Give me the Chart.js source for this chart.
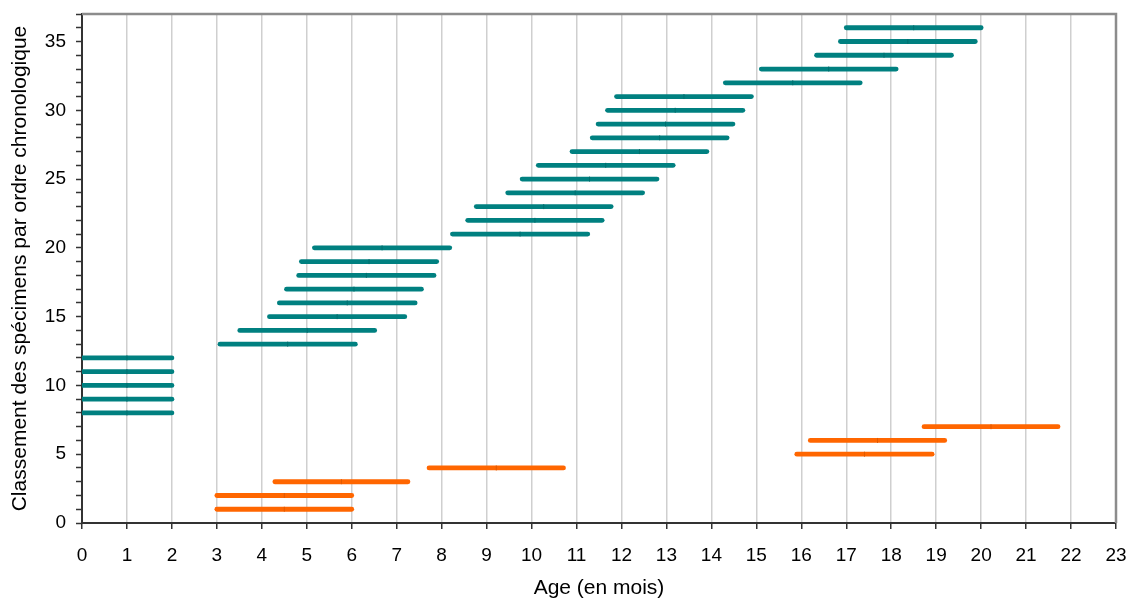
<!DOCTYPE html>
<html>
<head>
<meta charset="utf-8">
<script src="https://cdn.jsdelivr.net/npm/chart.js@4/dist/chart.umd.min.js"></script>
<style>
  body { margin: 0; background: #fff; }
  #wrap { width: 1133px; height: 605px; }
</style>
</head>
<body>
<div id="wrap"><canvas id="chart"></canvas></div>
<script>
// Specimens ranked chronologically: rank, age at start and end (months), group
const ranks = [1, 2, 3, 4, 5, 6, 7,
    8, 9, 10, 11, 12, 13, 14, 15, 16, 17, 18, 19, 20,
    21, 22, 23, 24, 25, 26, 27, 28, 29, 30, 31, 32, 33, 34, 35, 36];
const startAges = [3, 3, 4.29, 7.72, 15.9, 16.2, 18.73,
    0, 0, 0, 0, 0, 3.07, 3.51, 4.17, 4.39, 4.55, 4.82, 4.88, 5.17,
    8.24, 8.58, 8.77, 9.47, 9.79, 10.15, 10.9, 11.35, 11.48, 11.69, 11.89, 14.31, 15.11, 16.34, 16.87, 17];
const endAges = [6, 6, 7.25, 10.71, 18.91, 19.19, 21.71,
    2, 2, 2, 2, 2, 6.08, 6.51, 7.18, 7.41, 7.55, 7.83, 7.89, 8.18,
    11.25, 11.57, 11.77, 12.47, 12.79, 13.15, 13.9, 14.35, 14.48, 14.7, 14.89, 17.31, 18.11, 19.34, 19.87, 20];
const groups = ['B', 'B', 'B', 'B', 'B', 'B', 'B',
    'A', 'A', 'A', 'A', 'A', 'A', 'A', 'A', 'A', 'A', 'A', 'A', 'A',
    'A', 'A', 'A', 'A', 'A', 'A', 'A', 'A', 'A', 'A', 'A', 'A', 'A', 'A', 'A', 'A'];

const colors = { A: '#008080', B: '#FF6600' };
const midColors = { A: '#006e6e', B: '#e05a00' };
const font = "'Liberation Sans', Arial, sans-serif";

const datasets = ranks.map(function(r, i){
    const g = groups[i];
    return {
        data: [
            { x: startAges[i], y: r },
            { x: (startAges[i] + endAges[i]) / 2, y: r },
            { x: endAges[i], y: r }
        ],
        borderColor: colors[g],
        borderWidth: 4.8,
        borderCapStyle: 'round',
        pointRadius: [0, 2.5, 0],
        pointStyle: 'line',
        rotation: 90,
        pointBorderColor: midColors[g],
        pointBorderWidth: 1,
        clip: 0
    };
});

// grey frame on the top and right of the plot
const frame = {
    id: 'frame',
    afterDraw(chart) {
        const a = chart.chartArea;
        const ctx = chart.ctx;
        ctx.save();
        ctx.strokeStyle = '#8c8c8c';
        ctx.lineWidth = 2.5;
        ctx.beginPath();
        ctx.moveTo(a.left, a.top);
        ctx.lineTo(a.right, a.top);
        ctx.lineTo(a.right, a.bottom);
        ctx.stroke();
        ctx.restore();
    }
};

new Chart(document.getElementById('chart'), {
    type: 'line',
    data: { datasets: datasets },
    options: {
        responsive: true,
        maintainAspectRatio: false,
        animation: false,
        events: [],
        layout: { padding: { top: 14, right: 17, left: 0, bottom: 0 } },
        scales: {
            x: {
                type: 'linear',
                min: 0,
                max: 23,
                afterFit: function(scale){
                    scale.height = 82;
                    scale.paddingLeft = 0;
                    scale.paddingRight = 0;
                },
                ticks: {
                    stepSize: 1,
                    color: '#000',
                    padding: 15,
                    font: { family: font, size: 19 }
                },
                grid: {
                    color: '#cfcfcf',
                    lineWidth: 1.5,
                    tickColor: '#333',
                    tickLength: 6,
                    tickWidth: 1.5
                },
                border: { color: '#333', width: 2 },
                title: {
                    display: true,
                    text: 'Age (en mois)',
                    color: '#000',
                    font: { family: font, size: 21 },
                    padding: { top: 0, bottom: 4 }
                }
            },
            y: {
                min: 0,
                max: 37,
                afterFit: function(scale){
                    scale.width = 82;
                    scale.paddingTop = 0;
                    scale.paddingBottom = 0;
                },
                ticks: {
                    stepSize: 1,
                    autoSkip: false,
                    color: '#000',
                    padding: 10,
                    font: { family: font, size: 19 },
                    callback: function(v){ return v % 5 === 0 ? v : ''; }
                },
                grid: {
                    drawOnChartArea: false,
                    tickColor: '#333',
                    tickLength: 6,
                    tickWidth: 1.5
                },
                border: { color: '#333', width: 2 },
                title: {
                    display: true,
                    text: 'Classement des spécimens par ordre chronologique',
                    color: '#000',
                    font: { family: font, size: 21 },
                    padding: { top: 8, bottom: 0 }
                }
            }
        },
        plugins: {
            legend: { display: false },
            tooltip: { enabled: false }
        }
    },
    plugins: [frame]
});
</script>
</body>
</html>
